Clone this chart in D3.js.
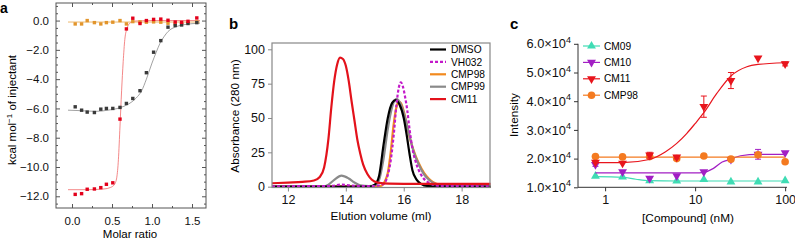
<!DOCTYPE html>
<html>
<head>
<meta charset="utf-8">
<script src="https://cdn.jsdelivr.net/npm/d3@7"></script>
<style>
body{margin:0;background:#fff}
svg{display:block;font-family:"Liberation Sans",Arial,Helvetica,sans-serif}
</style>
</head>
<body>
<svg id="fig" width="795" height="241"></svg>
<script>
// ---- panel a : ITC ----
const molarRatio = [0.04,0.12,0.19,0.28,0.36,0.43,0.51,0.6,0.68,0.76,0.85,0.93,1.02,1.11,1.2,1.29,1.37,1.45,1.56]
const itcBlack  = [-5.89,-6.12,-6.25,-6.28,-6.05,-6.0,-6.0,-5.93,-5.66,-5.32,-4.79,-3.56,-2.16,-1.37,-0.45,-0.34,-0.3,-0.2,-0.14]
const itcRed    = [-11.87,-11.82,-11.52,-11.5,-11.41,-11.18,-11.08,-6.73,-0.57,0.16,-0.2,0.0,0.08,0.1,0.02,-0.1,-0.12,-0.05,0.18]
const itcOrange = [-0.23,-0.23,0.0,-0.14,-0.23,-0.14,-0.11,0.0,-0.23,-0.07,-0.09,-0.11,-0.09,-0.11,-0.18,-0.23,-0.2,-0.15,-0.1]
const fitBlackX = [-0.05,0.1,0.3,0.45,0.6,0.7,0.8,0.87,0.93,1.0,1.05,1.1,1.15,1.2,1.3,1.4,1.6]
const fitBlackY = [-6.12,-6.15,-6.2,-6.12,-5.95,-5.72,-5.3,-4.8,-4.0,-2.9,-2.2,-1.55,-1.1,-0.75,-0.42,-0.28,-0.18]
const fitRedX = [-0.05,0.2,0.4,0.48,0.53,0.56,0.58,0.6,0.62,0.64,0.66,0.69,0.73,0.8,1.0,1.6]
const fitRedY = [-11.55,-11.55,-11.5,-11.4,-11.2,-10.7,-9.5,-7.2,-4.8,-2.8,-1.3,-0.5,-0.15,-0.03,0,0]
const fitOrangeX = [-0.05,1.6]
const fitOrangeY = [-0.1,-0.1]

// ---- panel b : SEC ----
const secLabels = ["DMSO","VH032","CMP98","CMP99","CM11"]
const secDMSO = [[11.45,0],[14.8,0],[15.0,1.5],[15.15,8],[15.3,30],[15.45,50],[15.6,61],[15.72,63],[15.85,60],[16.0,50],[16.1,38],[16.2,24],[16.3,12],[16.45,5],[16.6,2],[16.8,0.5],[19,0]]
const secVH032 = [[11.45,0.3],[13.5,0.5],[13.8,1.5],[14.1,1],[14.5,0.5],[15.0,0.5],[15.3,2],[15.43,7],[15.55,19],[15.66,39],[15.75,60],[15.85,74],[15.9,76],[15.97,73],[16.05,65],[16.12,56],[16.2,42],[16.29,29],[16.4,19],[16.52,12],[16.65,7],[16.81,3.6],[17.0,1.5],[17.3,0.5],[19,0.3]]
const secCMP98 = [[11.45,0],[15.2,0.5],[15.35,4],[15.45,10],[15.55,25],[15.65,45],[15.75,58],[15.82,62],[15.9,61],[16.0,55],[16.1,46],[16.23,34],[16.4,23],[16.52,17],[16.7,10],[16.86,6],[17.0,3.5],[17.2,1.5],[17.5,0.3],[19,0]]
const secCMP99 = [[11.45,0],[13.2,0],[13.4,1.5],[13.6,5],[13.85,8],[14.1,6],[14.3,3],[14.5,1],[14.8,0.5],[15.0,1],[15.15,5],[15.3,20],[15.45,42],[15.6,58],[15.75,64],[15.9,60],[16.05,50],[16.2,37],[16.35,25],[16.5,17],[16.7,9],[16.9,4.5],[17.1,2],[17.4,0.5],[19,0.2]]
const secCM11 = [[11.45,2.5],[12.0,3.0],[12.5,3.5],[12.9,4.5],[13.1,7],[13.25,14],[13.4,35],[13.5,58],[13.6,77],[13.7,89],[13.8,94],[13.9,93],[14.0,88],[14.1,77],[14.2,62],[14.3,48],[14.4,34],[14.5,24],[14.6,16],[14.75,9],[14.9,5],[15.1,3],[15.5,2.2],[16.5,2],[19,2]]

// ---- panel c : dose response ----
const doseLabels = ["CM09","CM10","CM11","CMP98"]
const conc = [0.78125,1.5625,3.125,6.25,12.5,25,50,100]
const valCM09  = [1.39,1.36,1.23,1.22,1.27,1.19,1.19,1.23]
const valCM10  = [1.79,1.54,1.31,1.40,1.54,1.97,2.15,2.20]
const valCM11  = [1.87,1.84,2.12,2.05,3.81,4.72,5.50,5.30]
const valCMP98 = [2.07,2.06,2.07,2.00,2.09,1.98,2.13,1.89]
const errCM10  = [0.06,0,0,0,0,0,0.17,0]
const errCM11  = [0,0,0.1,0.06,0.37,0.28,0,0.07]
const errCMP98 = [0,0,0.05,0.06,0,0,0,0]
const fitCM09X = [0.78,1.56,2.2,3.1,6.25,100]
const fitCM09Y = [1.37,1.35,1.28,1.23,1.22,1.22]
const fitCM10X = [0.78,3.1,6.25,10,12.5,16,20,25,32,50,100]
const fitCM10Y = [1.5,1.5,1.5,1.5,1.52,1.66,1.88,1.98,2.1,2.15,2.15]
const fitCM11X = [0.78,1.56,3.1,4.7,6.25,8.1,10,12.5,17.4,25,37.6,50,100]
const fitCM11Y = [1.86,1.86,1.97,2.24,2.53,2.88,3.22,3.6,4.27,4.88,5.2,5.28,5.34]
const fitCMP98X = [0.78,100]
const fitCMP98Y = [2.05,2.05]
const yTicksC = [1,2,3,4,5,6]

const FS = 11.5

const svg = d3.select("#fig")
drawPanelA(svg)
drawPanelB(svg)
drawPanelC(svg)

function drawPanelA(svg){
    const fr = {left:56, right:206, top:3, bottom:208}
    const x = d3.scaleLinear().domain([-0.2,1.675]).range([fr.left,fr.right])
    const y = d3.scaleLinear().domain([-12.8,1.2]).range([fr.bottom,fr.top])
    const g = svg.append("g")

    const major = [0,-2,-4,-6,-8,-10,-12]
    const minor = d3.range(-12.5,1.01,0.5).filter(v => Math.abs(v % 2) > 0.01)
    const xMajor = [0,0.5,1,1.5]
    const xMinor = [0.25,0.75,1.25]

    g.append("g").attr("transform",`translate(${fr.left},0)`)
     .call(d3.axisLeft(y).tickValues(major).tickSize(-4).tickPadding(7).tickFormat(d3.format(".1f")))
     .call(styleAxis,"#555",FS)
    g.append("g").attr("transform",`translate(${fr.left},0)`)
     .call(d3.axisLeft(y).tickValues(minor).tickSize(-2).tickFormat(""))
     .call(styleAxis,"#555",FS)
    g.append("g").attr("transform",`translate(${fr.right},0)`)
     .call(d3.axisRight(y).tickValues(major).tickSize(-4).tickFormat(""))
     .call(styleAxis,"#555",FS)
    g.append("g").attr("transform",`translate(${fr.right},0)`)
     .call(d3.axisRight(y).tickValues(minor).tickSize(-2).tickFormat(""))
     .call(styleAxis,"#555",FS)
    g.append("g").attr("transform",`translate(0,${fr.bottom})`)
     .call(d3.axisBottom(x).tickValues(xMajor).tickSize(-4).tickPadding(9).tickFormat(d3.format(".1f")))
     .call(styleAxis,"#555",FS)
    g.append("g").attr("transform",`translate(0,${fr.bottom})`)
     .call(d3.axisBottom(x).tickValues(xMinor).tickSize(-2).tickFormat(""))
     .call(styleAxis,"#555",FS)
    g.append("g").attr("transform",`translate(0,${fr.top})`)
     .call(d3.axisTop(x).tickValues(xMajor).tickSize(-4).tickFormat(""))
     .call(styleAxis,"#555",FS)
    g.append("g").attr("transform",`translate(0,${fr.top})`)
     .call(d3.axisTop(x).tickValues(xMinor).tickSize(-2).tickFormat(""))
     .call(styleAxis,"#555",FS)

    g.append("rect").attr("x",fr.left).attr("y",fr.top)
     .attr("width",fr.right-fr.left).attr("height",fr.bottom-fr.top)
     .attr("fill","none").attr("stroke","#555").attr("stroke-width",1)

    const line = d3.line().x(d => x(d[0])).y(d => y(d[1])).curve(d3.curveMonotoneX)
    g.append("path").datum(d3.zip(fitOrangeX,fitOrangeY)).attr("d",line)
     .attr("fill","none").attr("stroke","#eaa84a").attr("stroke-width",0.8)
    g.append("path").datum(d3.zip(fitBlackX,fitBlackY)).attr("d",line)
     .attr("fill","none").attr("stroke","#8a8a8a").attr("stroke-width",0.8)
    g.append("path").datum(d3.zip(fitRedX,fitRedY)).attr("d",line)
     .attr("fill","none").attr("stroke","#f06a6a").attr("stroke-width",0.8)

    addSquares(g,x,y,itcOrange,"#e2952c")
    addSquares(g,x,y,itcBlack,"#3a3a3a")
    addSquares(g,x,y,itcRed,"#e3001b")

    g.append("text").attr("x",130).attr("y",238).attr("text-anchor","middle")
     .attr("font-size",FS).text("Molar ratio")
    const yl = g.append("text").attr("transform","translate(16,110) rotate(-90)")
     .attr("text-anchor","middle").attr("font-size",FS)
    yl.append("tspan").text("kcal mol")
    yl.append("tspan").attr("dy",-4).attr("font-size",8).text("\u22121")
    yl.append("tspan").attr("dy",4).text(" of injectant")

    svg.append("text").attr("x",0).attr("y",13).attr("font-size",14)
     .attr("font-weight","bold").text("a")
}

function addSquares(g,x,y,vals,color){
    const s = 3.4
    g.append("g").selectAll("rect").data(vals).enter().append("rect")
     .attr("x",(d,i) => x(molarRatio[i]) - s/2).attr("y",d => y(d) - s/2)
     .attr("width",s).attr("height",s).attr("fill",color)
}

function styleAxis(sel,color,size){
    sel.select(".domain").remove()
    sel.selectAll(".tick line").attr("stroke",color)
    sel.selectAll(".tick text").attr("font-size",size).attr("fill","#111")
       .attr("font-family","'Liberation Sans',Arial,sans-serif")
}

function drawPanelB(svg){
    const fr = {left:272, right:490, top:43, bottom:187.5}
    const x = d3.scaleLinear().domain([11.45,18.98]).range([fr.left,fr.right])
    const y = d3.scaleLinear().domain([-0.6,104.6]).range([fr.bottom,fr.top])
    const g = svg.append("g")

    g.append("g").attr("transform",`translate(${fr.left},0)`)
     .call(d3.axisLeft(y).tickValues([0,25,50,75,100]).tickSize(4).tickPadding(3))
     .call(styleAxis,"#888",12.5)
    g.append("g").attr("transform",`translate(0,${fr.bottom})`)
     .call(d3.axisBottom(x).tickValues([12,14,16,18]).tickSize(4).tickPadding(4))
     .call(styleAxis,"#888",12.5)

    const line = d3.line().x(d => x(d[0])).y(d => y(d[1])).curve(d3.curveMonotoneX)
    const traces = [
        {data:secCMP98, color:"#f28a1e", dash:null},
        {data:secCMP99, color:"#8a8a8a", dash:null},
        {data:secDMSO, color:"#000", dash:null},
        {data:secVH032, color:"#c31ac9", dash:"3 2"},
        {data:secCM11, color:"#e3121b", dash:null}
    ]
    traces.forEach(t => {
        g.append("path").datum(t.data).attr("d",line).attr("fill","none")
         .attr("stroke",t.color).attr("stroke-width",2.2)
         .attr("stroke-dasharray",t.dash)
    })

    g.append("rect").attr("x",fr.left).attr("y",fr.top)
     .attr("width",fr.right-fr.left).attr("height",fr.bottom-fr.top)
     .attr("fill","none").attr("stroke","#888").attr("stroke-width",1.2)

    // legend, same order as the picture
    const legColors = ["#000","#c31ac9","#f28a1e","#8a8a8a","#e3121b"]
    secLabels.forEach((lab,i) => {
        const ly = 49.5 + i*12.4
        g.append("line").attr("x1",430).attr("x2",446).attr("y1",ly).attr("y2",ly)
         .attr("stroke",legColors[i]).attr("stroke-width",2.2)
         .attr("stroke-dasharray",lab === "VH032" ? "3 2" : null)
        g.append("text").attr("x",451).attr("y",ly+3.6).attr("font-size",10.2).text(lab)
    })

    g.append("text").attr("x",381).attr("y",220).attr("text-anchor","middle")
     .attr("font-size",11.8).text("Elution volume (ml)")
    g.append("text").attr("transform","translate(239,116) rotate(-90)")
     .attr("text-anchor","middle").attr("font-size",11.8).text("Absorbance (280 nm)")

    svg.append("text").attr("x",229).attr("y",29).attr("font-size",15)
     .attr("font-weight","bold").text("b")
}

function drawPanelC(svg){
    const fr = {left:578, right:787, top:43.8, bottom:187.3}
    const x = d3.scaleLog().domain([0.5,104.9]).range([fr.left,fr.right])
    const y = d3.scaleLinear().domain([1,6]).range([fr.bottom,fr.top])
    const g = svg.append("g")

    const ya = g.append("g").attr("transform",`translate(${fr.left},0)`)
     .call(d3.axisLeft(y).tickValues(yTicksC).tickSize(4).tickPadding(3).tickFormat(d => d.toFixed(1) + "\u00d710"))
     .call(styleAxis,"#333",12.8)
    ya.selectAll(".tick text").append("tspan").attr("dy",-5.5).attr("font-size",9).text("4")
    ya.append("line").attr("x1",0).attr("x2",0).attr("y1",fr.top).attr("y2",fr.bottom)
     .attr("stroke","#333")
    const xa = g.append("g").attr("transform",`translate(0,${fr.bottom})`)
     .call(d3.axisBottom(x).tickValues([1,10,100]).tickSize(4).tickPadding(4).tickFormat(d3.format("d")))
     .call(styleAxis,"#333",12.5)
    xa.append("line").attr("x1",fr.left).attr("x2",fr.right).attr("stroke","#333")

    const series = [
        {vals:valCM09, err:null, fx:fitCM09X, fy:fitCM09Y, color:"#3fdcb4", sym:"up"},
        {vals:valCM10, err:errCM10, fx:fitCM10X, fy:fitCM10Y, color:"#a21fc4", sym:"down"},
        {vals:valCMP98, err:errCMP98, fx:fitCMP98X, fy:fitCMP98Y, color:"#f47a20", sym:"circle"},
        {vals:valCM11, err:errCM11, fx:fitCM11X, fy:fitCM11Y, color:"#e8141c", sym:"down"}
    ]
    const line = d3.line().x(d => x(d[0])).y(d => y(d[1])).curve(d3.curveMonotoneX)
    series.forEach(s => {
        g.append("path").datum(d3.zip(s.fx,s.fy)).attr("d",line).attr("fill","none")
         .attr("stroke",s.color).attr("stroke-width",1.2)
        if(s.err){
            s.err.forEach((e,i) => {
                if(!e) return
                const cx = x(conc[i])
                g.append("path").attr("d",`M${cx},${y(s.vals[i]-e)}V${y(s.vals[i]+e)}M${cx-3},${y(s.vals[i]-e)}H${cx+3}M${cx-3},${y(s.vals[i]+e)}H${cx+3}`)
                 .attr("stroke",s.color).attr("stroke-width",1).attr("fill","none")
            })
        }
        s.vals.forEach((v,i) => addSymbol(g,x(conc[i]),y(v),s.sym,s.color))
    })

    // legend
    const legOrder = [
        {lab:doseLabels[0], color:"#3fdcb4", sym:"up"},
        {lab:doseLabels[1], color:"#a21fc4", sym:"down"},
        {lab:doseLabels[2], color:"#e8141c", sym:"down"},
        {lab:doseLabels[3], color:"#f47a20", sym:"circle"}
    ]
    legOrder.forEach((d,i) => {
        const ly = 46 + i*16.4
        g.append("line").attr("x1",583).attr("x2",600).attr("y1",ly).attr("y2",ly)
         .attr("stroke",d.color).attr("stroke-width",1.2)
        addSymbol(g,591.5,ly,d.sym,d.color)
        g.append("text").attr("x",604).attr("y",ly+3.6).attr("font-size",10.2).text(d.lab)
    })

    g.append("text").attr("x",688).attr("y",222).attr("text-anchor","middle")
     .attr("font-size",11.8).text("[Compound] (nM)")
    g.append("text").attr("transform","translate(518,115) rotate(-90)")
     .attr("text-anchor","middle").attr("font-size",11.8).text("Intensity")

    svg.append("text").attr("x",510).attr("y",29).attr("font-size",15)
     .attr("font-weight","bold").text("c")
}

function addSymbol(g,cx,cy,sym,color){
    if(sym === "circle"){
        g.append("circle").attr("cx",cx).attr("cy",cy).attr("r",3.8).attr("fill",color)
        return
    }
    const rot = sym === "down" ? 180 : 0
    g.append("path").attr("d",d3.symbol().type(d3.symbolTriangle).size(34)())
     .attr("transform",`translate(${cx},${cy}) rotate(${rot})`).attr("fill",color)
}
</script>
</body>
</html>
